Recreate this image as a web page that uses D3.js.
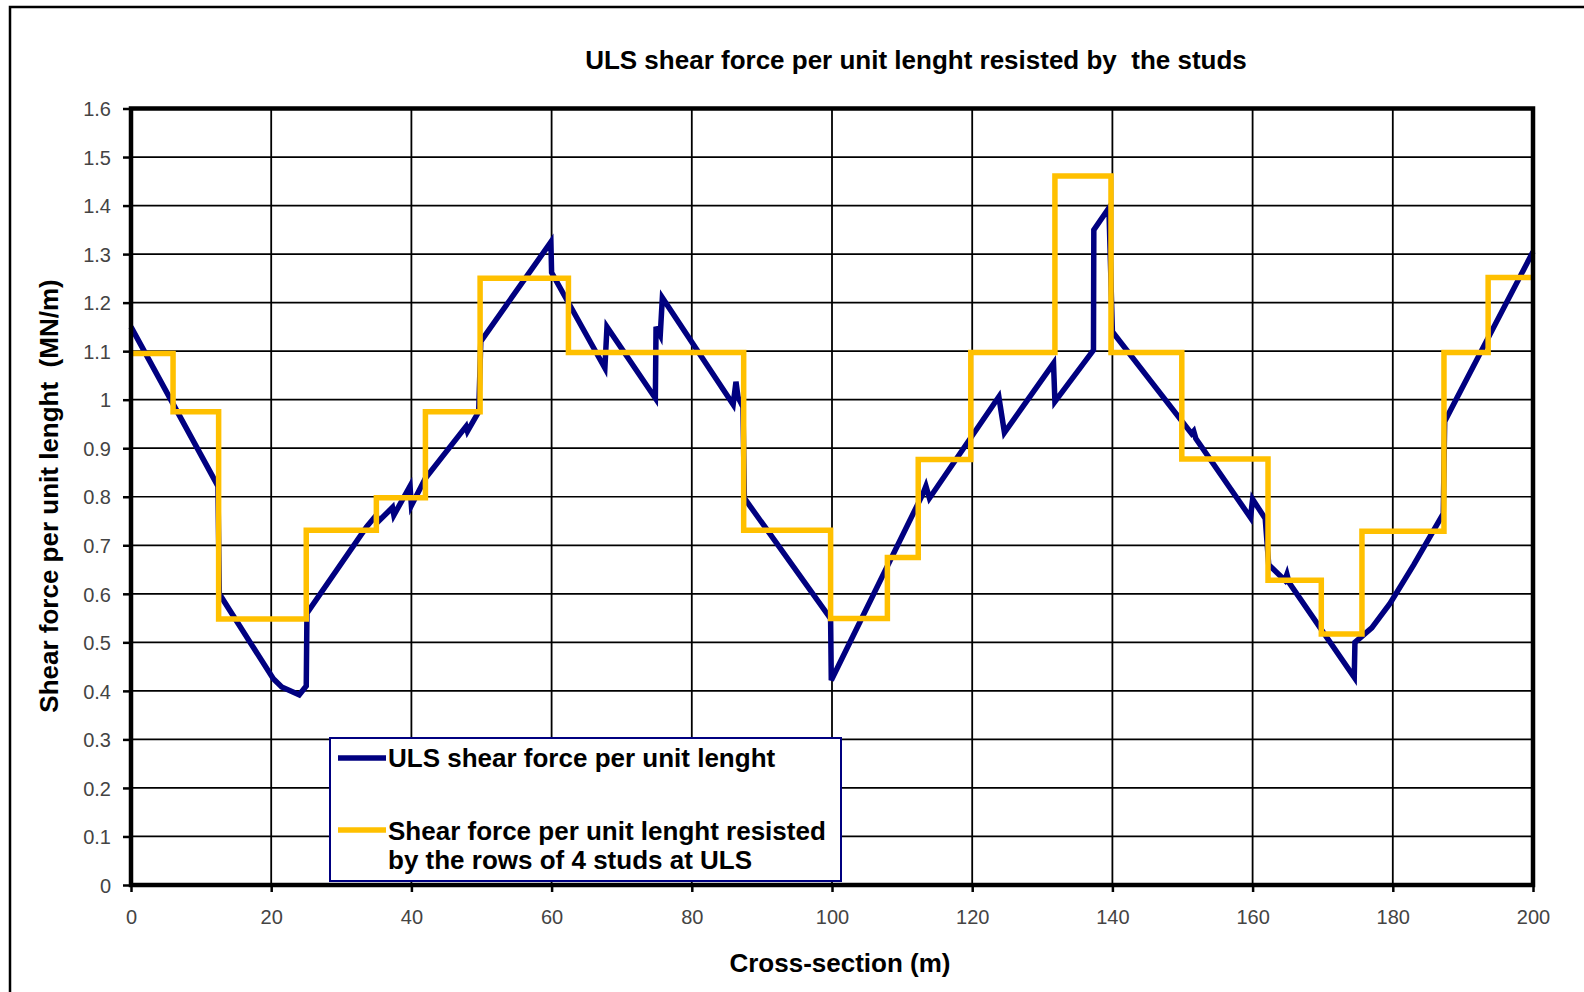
<!DOCTYPE html>
<html>
<head>
<meta charset="utf-8">
<script src="https://cdn.jsdelivr.net/npm/d3@7"></script>
<style>
  html, body { margin: 0; padding: 0; background: #fff; }
  svg { display: block; font-family: "Liberation Sans", Arial, sans-serif; }
  .pre { white-space: pre; }
</style>
</head>
<body>
<svg id="chart" width="1584" height="992"></svg>
<script>
// ---- Data ----
const chartTitle = "ULS shear force per unit lenght resisted by  the studs";
const xLabel = "Cross-section (m)";
const yLabel = "Shear force per unit lenght  (MN/m)";
const seriesNames = ["ULS shear force per unit lenght",
  ["Shear force per unit lenght resisted", "by the rows of 4 studs at ULS"]];

const xTicks = [0, 20, 40, 60, 80, 100, 120, 140, 160, 180, 200];
const yTicks = [0, 0.1, 0.2, 0.3, 0.4, 0.5, 0.6, 0.7, 0.8, 0.9, 1, 1.1, 1.2, 1.3, 1.4, 1.5, 1.6];

// ULS shear force per unit length (blue)
const ulsX = [0, 12.4, 12.6, 20.3, 21.5, 24, 25, 25.1, 33.6, 35.0, 35.2, 37.3, 37.5, 39.8, 40.0, 42.0,
  47.8, 48.0, 49.6, 49.9, 59.9, 60.0, 67.6, 67.9, 74.8, 74.9, 75.5, 75.8, 85.9, 86.3, 86.6, 87.3, 87.5,
  99.8, 99.9, 113.0, 113.4, 113.9, 123.8, 124.6, 131.6, 131.8, 137.3, 137.35, 139.5, 140.0, 151.3, 151.6,
  151.9, 159.7, 160.0, 161.8, 162.3, 164.6, 164.9, 165.2, 174.5, 174.6, 177, 179.6, 183, 187.2, 187.4, 200];
const ulsY = [1.15, 0.822, 0.60, 0.425, 0.408, 0.392, 0.41, 0.56, 0.738, 0.762, 0.748, 0.778, 0.762, 0.822, 0.782, 0.838,
  0.945, 0.935, 0.975, 1.12, 1.325, 1.262, 1.065, 1.15, 1.003, 1.15, 1.133, 1.21, 0.99, 1.037, 1.005, 0.985, 0.797,
  0.549, 0.422, 0.807, 0.822, 0.797, 1.006, 0.932, 1.075, 0.996, 1.102, 1.35, 1.395, 1.14, 0.93, 0.935,
  0.92, 0.757, 0.795, 0.755, 0.66, 0.628, 0.64, 0.623, 0.428, 0.50, 0.53, 0.58, 0.66, 0.765, 0.955, 1.305];

// Resistance of rows of 4 studs (yellow, step function; value holds from x until next x)
const studX = [0, 6, 12.5, 25, 35, 42, 49.8, 62.4, 87.4, 99.8, 107.9, 112.3, 119.8, 131.8, 139.8, 149.9,
  162.2, 169.8, 175.6, 187.3, 193.6, 200];
const studY = [1.095, 0.975, 0.548, 0.731, 0.798, 0.975, 1.25, 1.097, 0.731, 0.549, 0.675, 0.877, 1.097, 1.461, 1.097, 0.878,
  0.628, 0.517, 0.729, 1.097, 1.252, 1.252];

// ---- Layout ----
const svg = d3.select("#chart");
const L = 131, R = 1533, T = 108.5, B = 885;
const x = d3.scaleLinear().domain([0, 200]).range([L, R]);
const y = d3.scaleLinear().domain([0, 1.6]).range([B, T]);

// outer frame
svg.append("rect").attr("x", 10).attr("y", 7).attr("width", 1620).attr("height", 1020)
  .attr("fill", "none").attr("stroke", "#000").attr("stroke-width", 2.5);

// gridlines
svg.append("g").selectAll("line").data(yTicks.slice(1, -1)).join("line")
  .attr("x1", L).attr("x2", R).attr("y1", d => y(d)).attr("y2", d => y(d))
  .attr("stroke", "#000").attr("stroke-width", 1.7);
svg.append("g").selectAll("line").data(xTicks.slice(1, -1)).join("line")
  .attr("y1", T).attr("y2", B).attr("x1", d => x(d)).attr("x2", d => x(d))
  .attr("stroke", "#000").attr("stroke-width", 1.8);

// axes
const yAxis = d3.axisLeft(y).tickValues(yTicks).tickSize(8).tickPadding(12).tickFormat(d => String(+d.toFixed(1)));
const gy = svg.append("g").attr("transform", `translate(${L},0)`).call(yAxis);
const xAxis = d3.axisBottom(x).tickValues(xTicks).tickSize(7).tickPadding(18).tickFormat(d3.format("d"));
const gx = svg.append("g").attr("transform", `translate(0,${B})`).call(xAxis);
[gy, gx].forEach(g => {
  g.select(".domain").remove();
  g.selectAll(".tick line").attr("stroke", "#000").attr("stroke-width", 2.5);
  g.selectAll(".tick text").attr("fill", "#444").style("font-size", "20px")
    .style("font-family", "'Liberation Sans', Arial, sans-serif");
});
gy.selectAll(".tick text").attr("dy", "0.36em");
gx.selectAll(".tick text").attr("dy", "0.71em");

// series
const line = d3.line().x(d => x(d[0])).y(d => y(d[1]));
svg.append("path").datum(d3.zip(ulsX, ulsY)).attr("d", line)
  .attr("fill", "none").attr("stroke", "#000080").attr("stroke-width", 5.5).attr("stroke-linejoin", "miter");
const step = d3.line().x(d => x(d[0])).y(d => y(d[1])).curve(d3.curveStepAfter);
svg.append("path").datum(d3.zip(studX, studY)).attr("d", step)
  .attr("fill", "none").attr("stroke", "#FFC000").attr("stroke-width", 5.5).attr("stroke-linejoin", "miter");

// plot frame (drawn on top)
svg.append("rect").attr("x", L).attr("y", T).attr("width", R - L).attr("height", B - T)
  .attr("fill", "none").attr("stroke", "#000").attr("stroke-width", 4.5);

// title and axis labels
svg.append("text").attr("class", "pre").attr("x", 916).attr("y", 69).attr("text-anchor", "middle")
  .style("font-size", "26px").style("font-weight", "bold").text(chartTitle);
svg.append("text").attr("x", 840).attr("y", 972).attr("text-anchor", "middle")
  .style("font-size", "26px").style("font-weight", "bold").text(xLabel);
svg.append("text").attr("class", "pre").attr("transform", "translate(58,496) rotate(-90)").attr("text-anchor", "middle")
  .style("font-size", "26px").style("font-weight", "bold").text(yLabel);

// legend
const lg = svg.append("g");
lg.append("rect").attr("x", 330).attr("y", 738).attr("width", 511).attr("height", 143)
  .attr("fill", "#fff").attr("stroke", "#000080").attr("stroke-width", 2);
lg.append("line").attr("x1", 338).attr("x2", 386).attr("y1", 758).attr("y2", 758)
  .attr("stroke", "#000080").attr("stroke-width", 5.5);
lg.append("text").attr("x", 388).attr("y", 767).style("font-size", "26px").style("font-weight", "bold")
  .text(seriesNames[0]);
lg.append("line").attr("x1", 338).attr("x2", 386).attr("y1", 830).attr("y2", 830)
  .attr("stroke", "#FFC000").attr("stroke-width", 5.5);
lg.append("text").attr("x", 388).attr("y", 840).style("font-size", "26px").style("font-weight", "bold")
  .text(seriesNames[1][0]);
lg.append("text").attr("x", 388).attr("y", 869).style("font-size", "26px").style("font-weight", "bold")
  .text(seriesNames[1][1]);
</script>
</body>
</html>
